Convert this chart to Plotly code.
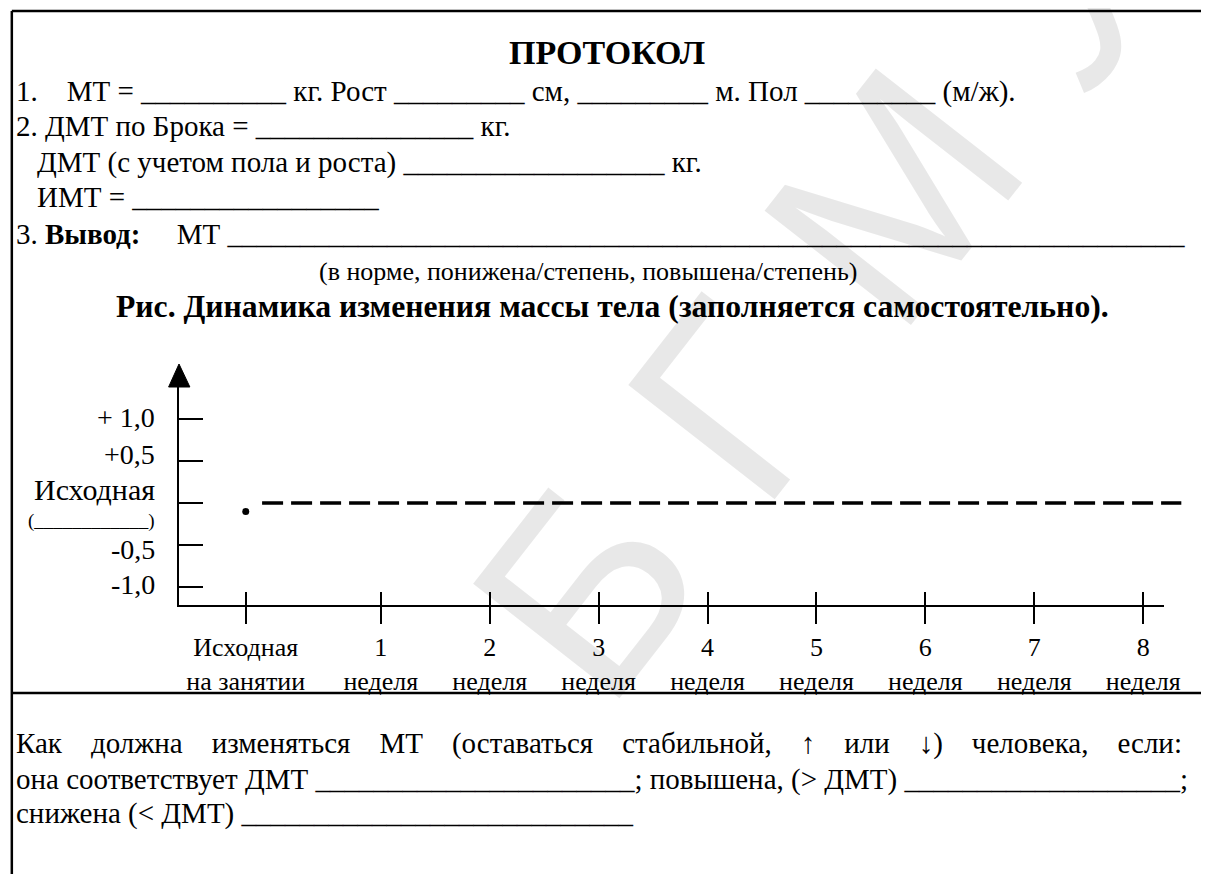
import plotly.graph_objects as go

# ---------------- data ----------------
x_labels = ["Исходная<br>на занятии", "1<br>неделя", "2<br>неделя", "3<br>неделя", "4<br>неделя",
            "5<br>неделя", "6<br>неделя", "7<br>неделя", "8<br>неделя"]
x_weeks = [-0.24, 1, 2, 3, 4, 5, 6, 7, 8]          # Исходная sits just before week 1
y_levels = [1.0, 0.5, 0.0, -0.5, -1.0]
y_level_labels = ["+ 1,0", "+0,5", "Исходная", "-0,5", "-1,0"]
y_label_nudge = [2, 7, 14, -4, 3]                  # small vertical offsets of the scanned labels (px)
initial_x = [-0.24]
initial_y = [-0.1]
baseline_x = [-0.09, 8.35]
baseline_y = [0.0, 0.0]

# ---------------- geometry (page pixels; the html body adds an 8px margin) ----------------
OFF = 8
W, H = 1209, 874
L, R_DATA, R_AXIS, T, B = 179, 1200, 1175, 385, 605     # page pixels
WK = 110.1          # px per week
YU = 84.0           # px per unit
x_lo = 1 - (383 - L) / WK
x_hi_data = x_lo + (R_DATA - L) / WK
x_hi_axis = x_lo + (R_AXIS - L) / WK
y_lo = (503 - B) / YU
y_hi = (503 - T) / YU


def px(x):
    return (x - L) / (R_DATA - L)


def py(y):
    return (B - y) / (B - T)


FONT = "Liberation Serif"
BLACK = "#000000"
BODY = 29
NB = "\u00a0"
U = "_"

fig = go.Figure()

fig.add_trace(go.Scatter(x=baseline_x, y=baseline_y, mode="lines",
                         line=dict(color=BLACK, width=3.5, dash="21px,8px"),
                         hoverinfo="skip", showlegend=False))
fig.add_trace(go.Scatter(x=initial_x, y=initial_y, mode="markers",
                         marker=dict(color=BLACK, size=7),
                         hoverinfo="skip", showlegend=False, cliponaxis=False))
# carrier for the drawn x axis (shorter than the data area)
fig.add_trace(go.Scatter(x=[x_lo], y=[y_lo], xaxis="x2", yaxis="y", mode="markers",
                         marker=dict(opacity=0), hoverinfo="skip", showlegend=False))

annotations = []

# watermark (drawn first so the text sits on top)
annotations.append(dict(text="Б Г М У", x=px(830), y=py(285), xref="paper", yref="paper",
                        xanchor="center", yanchor="middle",
                        showarrow=False, textangle=-52,
                        font=dict(family="Liberation Sans", size=270,
                                  color="rgba(0,0,0,0.09)")))


def line(text, x, y, size=BODY, anchor="left"):
    annotations.append(dict(text=text, x=px(x), y=py(y), xref="paper", yref="paper",
                            xanchor=anchor, yanchor="middle", showarrow=False,
                            font=dict(family=FONT, size=size, color=BLACK)))


def gap(text):
    # widen the word gaps of a justified line
    return text.replace(" ", " " + NB * 3)


line("<b>ПРОТОКОЛ</b>", 612, 52, size=34, anchor="center")
line("1." + NB * 3 + " МТ = " + U * 10 + " кг. Рост " + U * 9 + " см, " + U * 9
     + " м. Пол " + U * 9 + " (м/ж).", 12, 92)
line("2. ДМТ по Брока = " + U * 15 + " кг.", 12, 126)
line("ДМТ (с учетом пола и роста) " + U * 18 + " кг.", 33, 162)
line("ИМТ = " + U * 17, 33, 197)
line("3. <b>Вывод:</b>" + NB * 4 + " МТ " + U * 66, 12, 234)
line("(в норме, понижена/степень, повышена/степень)", 592, 271, size=26, anchor="center")
line("<b>Рис. Динамика изменения массы тела (заполняется самостоятельно).</b>", 617, 306,
     size=31.7, anchor="center")

line(gap("Как должна изменяться МТ (оставаться стабильной, ↑ или ↓) человека, если:"), 12, 743)
line("она соответствует ДМТ " + U * 22 + "; повышена, (&gt; ДМТ) " + U * 19 + ";", 12, 779)
line("снижена (&lt; ДМТ) " + U * 27, 12, 813)

# y-axis level labels
for v, lab, nudge in zip(y_levels, y_level_labels, y_label_nudge):
    if lab == "Исходная":
        annotations.append(dict(text=lab, x=px(157), y=v, xref="paper", yref="y",
                                xanchor="right", yanchor="middle", yshift=nudge,
                                showarrow=False,
                                font=dict(family=FONT, size=30, color=BLACK)))
        annotations.append(dict(text="(" + U * 12 + ")", x=px(157), y=v, xref="paper",
                                yref="y", xanchor="right", yanchor="middle", yshift=-18,
                                showarrow=False,
                                font=dict(family=FONT, size=19, color=BLACK)))
    else:
        annotations.append(dict(text=lab, x=px(157), y=v, xref="paper", yref="y",
                                xanchor="right", yanchor="middle", yshift=nudge,
                                showarrow=False,
                                font=dict(family=FONT, size=28, color=BLACK)))

shapes = [
    # page frame
    dict(type="line", xref="paper", yref="paper", x0=px(10), x1=px(1225), y0=py(11), y1=py(11),
         line=dict(color=BLACK, width=2.5)),
    dict(type="line", xref="paper", yref="paper", x0=px(10), x1=px(10), y0=py(11), y1=py(890),
         line=dict(color=BLACK, width=2.5)),
    dict(type="line", xref="paper", yref="paper", x0=px(10), x1=px(1225), y0=py(693),
         y1=py(693), line=dict(color=BLACK, width=2.5)),
    # arrow head of the y axis
    dict(type="path", xref="paper", yref="paper",
         path=f"M {px(179)} {py(364)} L {px(168.5)} {py(387)} L {px(190)} {py(387)} Z",
         fillcolor=BLACK, line=dict(color=BLACK, width=1)),
]

fig.update_layout(
    width=W, height=H,
    margin=dict(l=L - OFF, r=W - (R_DATA - OFF), t=T - OFF, b=H - (B - OFF), pad=0),
    paper_bgcolor="white", plot_bgcolor="rgba(0,0,0,0)",
    showlegend=False,
    annotations=annotations,
    shapes=shapes,
    xaxis=dict(domain=[0, 1], range=[x_lo, x_hi_data], showline=False, showgrid=False,
               zeroline=False, tickmode="array", tickvals=x_weeks, ticks="inside",
               ticklen=13, tickwidth=2, tickcolor=BLACK, showticklabels=False, fixedrange=True),
    xaxis2=dict(domain=[0, (R_AXIS - L) / (R_DATA - L)], range=[x_lo, x_hi_axis],
                anchor="y", side="bottom",
                showline=True, linewidth=2, linecolor=BLACK, showgrid=False, zeroline=False,
                tickmode="array", tickvals=x_weeks, ticktext=x_labels, ticks="outside",
                ticklen=17, tickwidth=2, tickcolor=BLACK, ticklabelstandoff=1,
                tickfont=dict(family=FONT, size=26, color=BLACK)),
    yaxis=dict(range=[y_lo, y_hi], showline=True, linewidth=2, linecolor=BLACK,
               showgrid=False, zeroline=False, tickmode="array", tickvals=y_levels,
               ticks="inside", ticklen=24, tickwidth=2, tickcolor=BLACK,
               showticklabels=False),
)

fig.write_html("out.html")
